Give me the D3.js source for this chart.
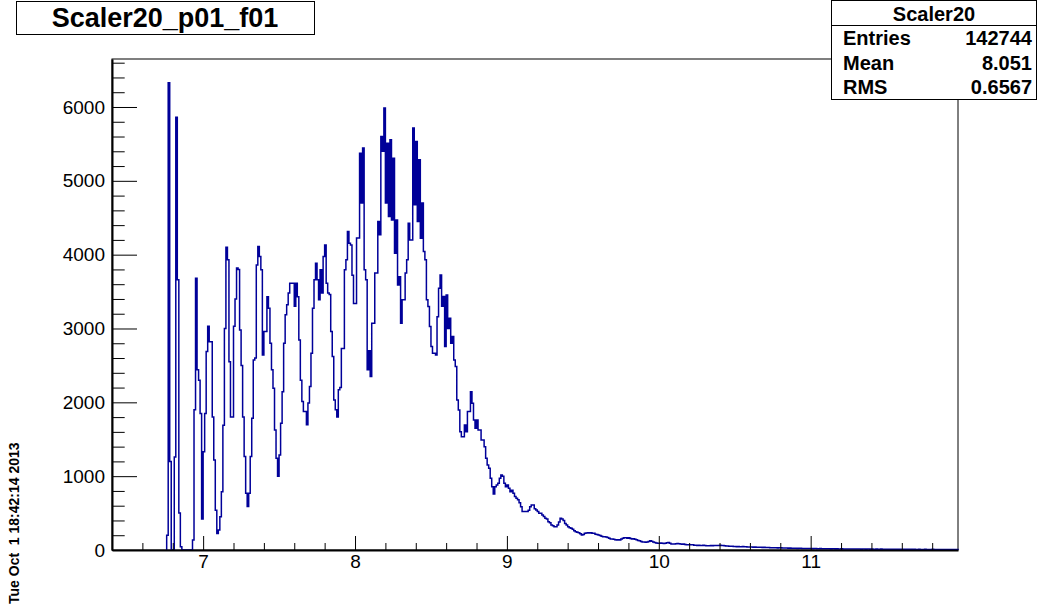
<!DOCTYPE html>
<html>
<head>
<meta charset="utf-8">
<script src="https://cdn.jsdelivr.net/npm/d3@7"></script>
<style>
  body { margin: 0; background: #fff; }
  svg { display: block; font-family: "Liberation Sans", Arial, Helvetica, sans-serif; }
</style>
</head>
<body>
<div id="chart"></div>
<script>
// histogram settings (bins of 0.01 starting at 6.76)
var histTitle = "Scaler20_p01_f01";
var statsName = "Scaler20";
var statsRows = [["Entries", "142744"], ["Mean", "8.051"], ["RMS", "0.6567"]];
var dateText = "Tue Oct  1 18:42:14 2013";
var binStart = 6.76;
var binWidth = 0.01;
var xDomain = [6.4, 11.97];
var yDomain = [0, 6650];
var xMajorTicks = [7, 8, 9, 10, 11];
var yMajorTicks = [0, 1000, 2000, 3000, 4000, 5000, 6000];

// counts
var counts = [
  200, 6330, 1200, 0, 0, 1260, 5860, 3660, 500, 45,
  0, 0, 0, 0, 0, 0, 0, 135, 1900, 3680,
  2440, 2300, 1850, 420, 1330, 1850, 2690, 3030, 2820, 2820,
  1800, 1220, 540, 225, 270, 450, 790, 1690, 3000, 4100,
  3930, 2550, 1800, 1800, 3030, 3400, 3820, 3800, 2980, 2500,
  1800, 1265, 770, 590, 770, 1265, 1785, 2575, 2600, 3860,
  4110, 3975, 3795, 2640, 2960, 2960, 3430, 3275, 2800, 2440,
  2190, 1626, 1242, 1000, 1287, 1716, 2145, 2800, 3185, 3320,
  3480, 3614, 3614, 3614, 3300, 3614, 3430, 2845, 2300, 2010,
  1875, 1875, 1695, 1990, 2213, 2665, 3275, 3660, 3885, 3660,
  3390, 3795, 3480, 3975, 4130, 3614, 3480, 3460, 2960, 2620,
  2030, 1900, 1800, 2170, 2200, 2730, 2730, 3795, 3930, 4315,
  4155, 4130, 3720, 3340, 3340, 4225, 4225, 5375, 4700, 5443,
  3795, 3659, 2440, 2700, 2350, 3072, 3072, 3750, 3750, 4450,
  4270, 5600, 5400, 5985, 4700, 5510, 4517, 5555, 4470, 5307,
  4020, 4470, 3590, 3700, 3070, 3390, 3390, 3750, 3930, 4427,
  4200, 4200, 5714, 4675, 5533, 4450, 5285, 4223, 4700, 4043,
  3930, 3390, 3297, 3026, 2755, 2665, 2665, 2640, 3160, 3546,
  3726, 3300, 3433, 2755, 3455, 3000, 3140, 2800, 2890, 2575,
  2484, 2033, 1897, 1600, 1535, 1535, 1694, 1600, 1875, 1875,
  2145, 1987, 1760, 1650, 1760, 1626, 1626, 1490, 1490, 1400,
  1242, 1150, 1107, 971, 858, 760, 858, 880, 903, 971,
  1016, 1000, 903, 858, 880, 835, 790, 810, 768, 723,
  700, 680, 640, 587, 520, 520, 520, 520, 540, 587,
  610, 610, 560, 542, 520, 497, 497, 474, 455, 430,
  420, 384, 370, 340, 330, 316, 316, 340, 380, 430,
  420, 400, 360, 340, 316, 300, 294, 280, 260, 248,
  240, 235, 220, 203, 210, 226, 230, 235, 230, 232,
  228, 226, 215, 210, 203, 195, 185, 180, 178, 175,
  170, 160, 150, 148, 145, 140, 135, 138, 135, 150,
  160, 165, 167, 160, 165, 155, 150, 152, 145, 140,
  130, 125, 115, 108, 110, 105, 108, 115, 125, 120,
  110, 100, 95, 90, 92, 95, 90, 88, 92, 98,
  100, 90, 82, 80, 82, 85, 88, 85, 80, 78,
  80, 76, 72, 72, 70, 72, 70, 66, 64, 62,
  64, 62, 60, 63, 60, 58, 57, 58, 60, 58,
  60, 62, 60, 62, 64, 60, 62, 58, 55, 54,
  52, 50, 52, 48, 46, 45, 47, 44, 45, 46,
  45, 43, 42, 40, 41, 40, 38, 40, 37, 36,
  38, 36, 35, 36, 34, 33, 35, 32, 30, 32,
  31, 30, 28, 30, 29, 27, 28, 26, 27, 25,
  26, 24, 25, 23, 24, 22, 23, 24, 21, 22,
  20, 22, 21, 19, 20, 18, 20, 19, 17, 18,
  19, 17, 18, 16, 17, 18, 16, 15, 17, 16,
  15, 16, 14, 15, 16, 14, 13, 15, 14, 13,
  14, 12, 13, 14, 12, 13, 12, 11, 13, 12,
  11, 12, 13, 11, 12, 10, 11, 12, 10, 11,
  12, 10, 11, 9, 10, 11, 10, 9, 10, 11,
  9, 10, 9, 8, 10, 9, 8, 9, 10, 8,
  9, 8, 9, 8, 7, 9, 8, 7, 8, 9,
  7, 8, 7, 8, 9, 7, 8, 7, 6, 8,
  7, 6, 8, 7, 6, 7, 6, 7, 8, 6,
  7
];

var svgWidth = 1038, svgHeight = 610;
var frame = { left: 112, right: 958, top: 59, bottom: 550 };
var lineColor = "#000099";

var svg = d3.select("#chart").append("svg")
  .attr("width", svgWidth)
  .attr("height", svgHeight);

var x = d3.scaleLinear().domain(xDomain).range([frame.left, frame.right]);
var y = d3.scaleLinear().domain(yDomain).range([frame.bottom, frame.top]);

// frame box
svg.append("rect")
  .attr("x", frame.left).attr("y", frame.top)
  .attr("width", frame.right - frame.left)
  .attr("height", frame.bottom - frame.top)
  .attr("fill", "none").attr("stroke", "#000").attr("stroke-width", 1);

// histogram as a step outline
var pts = [[x(binStart), y(0)]];
counts.forEach(function(c, i) {
  var x0 = x(binStart + i * binWidth), x1 = x(binStart + (i + 1) * binWidth);
  pts.push([x0, y(c)]);
  pts.push([x1, y(c)]);
});
pts.push([x(binStart + counts.length * binWidth), y(0)]);

svg.append("path")
  .attr("d", d3.line()(pts))
  .attr("fill", "none")
  .attr("stroke", lineColor)
  .attr("stroke-width", 1.5)
  .attr("stroke-linejoin", "miter");

// minor ticks
var xMinor = d3.range(6.4, 11.97, 0.2).filter(function(v) {
  return Math.abs(v - Math.round(v)) > 0.01;
});
var yMinor = d3.range(0, 6650, 200).filter(function(v) { return v % 1000 !== 0; });

svg.append("g")
  .attr("transform", `translate(0, ${frame.bottom})`)
  .call(d3.axisBottom(x).tickValues(xMinor).tickSize(-7).tickSizeOuter(0).tickFormat(""))
  .call(g => g.select(".domain").remove());

svg.append("g")
  .attr("transform", `translate(${frame.left}, 0)`)
  .call(d3.axisLeft(y).tickValues(yMinor).tickSize(-12.7).tickSizeOuter(0).tickFormat(""))
  .call(g => g.select(".domain").remove());

// major ticks + labels
var xAxisG = svg.append("g")
  .attr("transform", `translate(0, ${frame.bottom})`)
  .call(d3.axisBottom(x).tickValues(xMajorTicks).tickSize(-14).tickSizeOuter(0).tickPadding(5).tickFormat(d3.format("d")));

var yAxisG = svg.append("g")
  .attr("transform", `translate(${frame.left}, 0)`)
  .call(d3.axisLeft(y).tickValues(yMajorTicks).tickSize(-25).tickSizeOuter(0).tickPadding(7).tickFormat(d3.format("d")));

[xAxisG, yAxisG].forEach(function(g) {
  g.select(".domain").attr("stroke-width", 2).attr("stroke", "#000");
  g.selectAll("text")
    .attr("font-family", "Liberation Sans, Arial, sans-serif")
    .attr("font-size", "19px")
    .attr("fill", "#000");
});
svg.selectAll(".tick line").attr("stroke", "#000").attr("stroke-width", 1);

// title box
svg.append("rect")
  .attr("x", 16.5).attr("y", 1.5).attr("width", 298).attr("height", 33)
  .attr("fill", "#fff").attr("stroke", "#000").attr("stroke-width", 1);
svg.append("text")
  .attr("x", 165).attr("y", 27)
  .attr("text-anchor", "middle")
  .attr("font-size", "27px").attr("font-weight", "bold")
  .text(histTitle);

// stats box
var sb = { x: 831.5, y: 0.5, w: 205, h: 99 };
svg.append("rect")
  .attr("x", sb.x).attr("y", sb.y).attr("width", sb.w).attr("height", sb.h)
  .attr("fill", "#fff").attr("stroke", "#000").attr("stroke-width", 1);
svg.append("line")
  .attr("x1", sb.x).attr("x2", sb.x + sb.w)
  .attr("y1", 25.5).attr("y2", 25.5)
  .attr("stroke", "#000").attr("stroke-width", 1);
svg.append("text")
  .attr("x", sb.x + sb.w / 2).attr("y", 20.5)
  .attr("text-anchor", "middle")
  .attr("font-size", "20px").attr("font-weight", "bold")
  .text(statsName);
statsRows.forEach(function(r, i) {
  var by = 45 + i * 24.5;
  svg.append("text")
    .attr("x", 843).attr("y", by)
    .attr("font-size", "20px").attr("font-weight", "bold")
    .text(r[0]);
  svg.append("text")
    .attr("x", 1032).attr("y", by)
    .attr("text-anchor", "end")
    .attr("font-size", "20px").attr("font-weight", "bold")
    .text(r[1]);
});

// date stamp, vertical
svg.append("text")
  .attr("transform", "translate(19, 604) rotate(-90)")
  .attr("font-size", "14px").attr("font-weight", "bold")
  .attr("xml:space", "preserve")
  .style("white-space", "pre")
  .text(dateText);
</script>
</body>
</html>
